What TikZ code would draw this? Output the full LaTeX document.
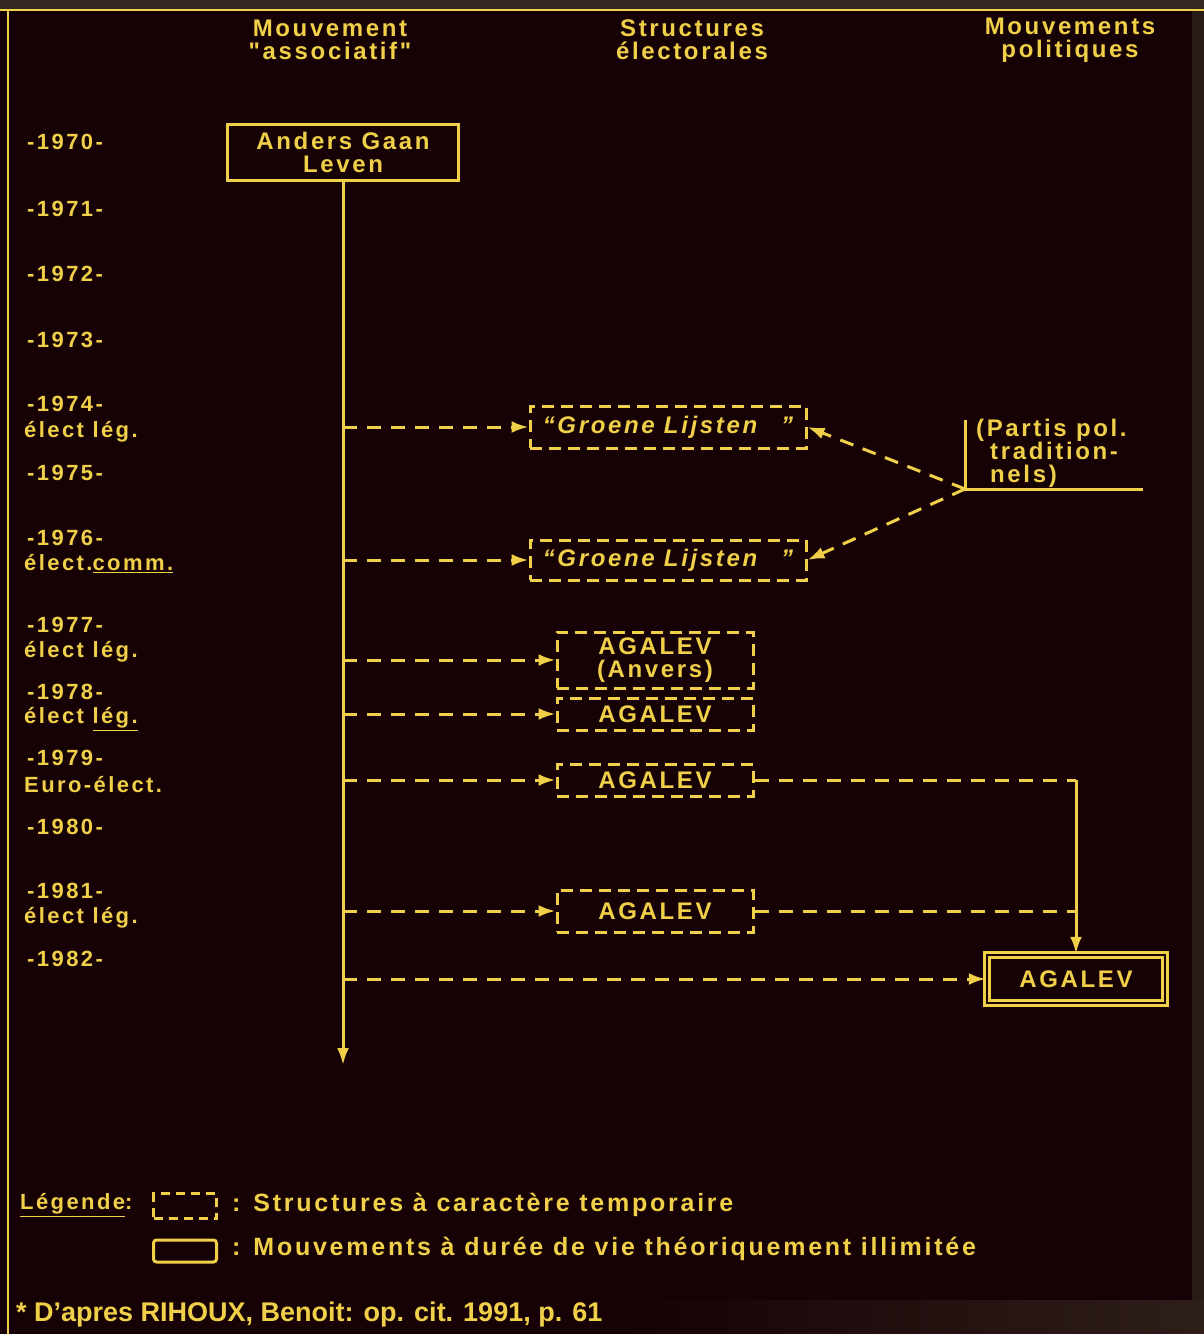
\documentclass[tikz,border=0pt]{standalone}
\usepackage{fontspec}
\setmainfont{Liberation Sans}
\newfontfamily\df[LetterSpace=11]{Liberation Sans}
\usetikzlibrary{arrows.meta}
\definecolor{bg}{RGB}{22,1,4}
\definecolor{yel}{RGB}{240,208,72}
\definecolor{strip}{RGB}{52,38,32}
\begin{document}
\begin{tikzpicture}[x=1pt,y=-1pt,
  txt/.style={text=yel, font=\df\bfseries\fontsize{24}{23}\selectfont, inner sep=0pt},
  ytxt/.style={txt, anchor=west, font=\df\bfseries\fontsize{22}{22}\selectfont},
  tbox/.style={txt, draw=yel, line width=3pt, dash pattern=on 12pt off 7pt, align=center},
  pbox/.style={txt, draw=yel, line width=3pt, align=center},
  dl/.style={draw=yel, line width=3pt, dash pattern=on 14pt off 10pt},
  sl/.style={draw=yel, line width=3pt},
  tip/.style={-{Latex[length=17pt,width=12pt]}}]
\fill[bg] (0,0) rectangle (1204,1334);
\useasboundingbox (0,0) rectangle (1204,1334);
\fill[strip] (0,0) rectangle (1204,9);
\fill[strip!70!bg] (1192,9) rectangle (1204,1334);
\shade[left color=bg, right color=strip!80!bg] (620,1300) rectangle (1204,1334);
\draw[yel, line width=2.5pt] (0,10) -- (1204,10);
\draw[yel, line width=2pt] (8,10) -- (8,1334);
% headers
\node[txt, align=center] (h1) at (330,40) {Mouvement\\"associatif"};
\node[txt, align=center] (h2) at (692,40) {Structures\\électorales};
\node[txt, align=center] (h3) at (1070,40) {Mouvements\\politiques};
% years
\foreach \yr/\yy in {1970/142,1971/209,1972/274,1973/340,1975/473,1980/827,1982/959}
  \node[ytxt] (y\yr) at (27,\yy) {-\yr-};
\foreach \yr/\yy in {1974/404,1976/538,1977/625,1978/692,1979/758,1981/891}
  \node[ytxt] (y\yr) at (27,\yy) {-\yr-};
\node[ytxt] (e1974) at (24,432) {élect lég.};
\node[ytxt] (e1976) at (24,564) {élect.\underline{comm.}};
\node[ytxt] (e1977) at (24,652) {élect lég.};
\node[ytxt] (e1978) at (24,719) {élect \underline{lég.}};
\node[ytxt] (e1979) at (24,785) {Euro-élect.};
\node[ytxt] (e1981) at (24,918) {élect lég.};
% boxes
\node[pbox, minimum width=231pt, minimum height=56pt] (agl) at (343,152) {Anders Gaan\\Leven};
\node[tbox, minimum width=276pt, minimum height=42pt, font=\df\bfseries\itshape\fontsize{24}{23}\selectfont] (gl1) at (668,427) {“Groene Lijsten\quad”};
\node[tbox, minimum width=276pt, minimum height=40pt, font=\df\bfseries\itshape\fontsize{24}{23}\selectfont] (gl2) at (668,560) {“Groene Lijsten\quad”};
\node[tbox, minimum width=196pt, minimum height=56pt] (ag77) at (655,660) {AGALEV\\(Anvers)};
\node[tbox, minimum width=196pt, minimum height=32pt] (ag78) at (655,714) {AGALEV};
\node[tbox, minimum width=196pt, minimum height=32pt] (ag79) at (655,780) {AGALEV};
\node[tbox, minimum width=196pt, minimum height=42pt] (ag81) at (655,911) {AGALEV};
\node[pbox, minimum width=178pt, minimum height=48pt, line width=2.5pt, double=bg, double distance=2.5pt] (agf) at (1076,979) {AGALEV};
% partis traditionnels
\node[txt, anchor=north west, align=left] (pt) at (976,419) {(Partis pol.\\\hspace*{14pt}tradition-\\\hspace*{14pt}nels)};
\coordinate (pp) at (965,489);
\coordinate (pptop) at (965,420);
\coordinate (ppend) at (1143,489);
\draw[sl] (pptop) -- (pp) -- (ppend);
\draw[dl, tip] (pp) -- (gl1.east);
\draw[dl, tip] (pp) -- (gl2.east);
% main time line
\coordinate (vend) at (agl.south |- 0,1065);
\draw[sl, tip] (agl.south) -- (vend);
\foreach \b in {gl1,gl2,ag77,ag78,ag79,ag81,agf}
  \draw[dl, tip] (agl.south |- \b.west) -- (\b.west);
% convergence to AGALEV
\coordinate (j1) at (agf.north |- ag79.east);
\coordinate (j2) at (agf.north |- ag81.east);
\draw[dl] (ag79.east) -- (j1);
\draw[dl] (ag81.east) -- (j2);
\draw[sl, tip] (j1) -- (agf.north);
% legend
\node[txt, anchor=west, font=\df\bfseries\fontsize{22}{22}\selectfont] (leg) at (20,1205) {\underline{Légende}:};
\node[draw=yel, line width=3pt, dash pattern=on 9pt off 6pt, minimum width=63pt, minimum height=25pt] (lb1) at (185,1206) {};
\node[txt, anchor=west, font=\df\bfseries\fontsize{25}{25}\selectfont] (lt1) at (232,1205) {: Structures à caractère temporaire};
\node[draw=yel, line width=3pt, rounded corners=3pt, minimum width=63pt, minimum height=22pt] (lb2) at (185,1251) {};
\node[txt, anchor=west, font=\df\bfseries\fontsize{25}{25}\selectfont] (lt2) at (232,1249) {: Mouvements à durée de vie théoriquement illimitée};
% source
\node[text=yel, font=\bfseries\fontsize{27}{28}\selectfont, inner sep=0pt, anchor=west] (src) at (16,1315) {* D'apres RIHOUX, Benoit: op. cit. 1991, p. 61};
\end{tikzpicture}
\end{document}
